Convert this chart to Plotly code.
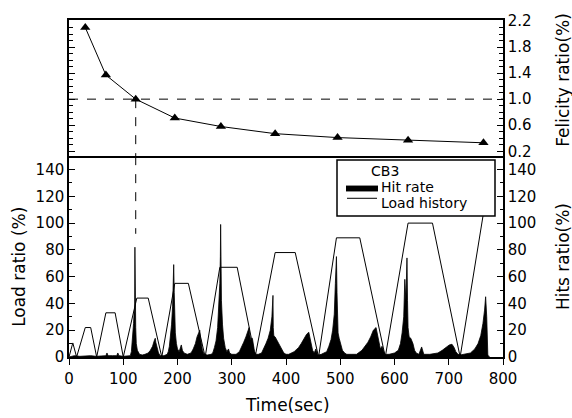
import plotly.graph_objects as go

# ---------------- data ----------------
felicity_time = [30, 68, 123, 195, 280, 380, 495, 625, 764]
felicity_ratio = [2.1, 1.37, 1.0, 0.71, 0.58, 0.47, 0.41, 0.37, 0.33]

load_time = [0, 7, 14, 30, 40, 51, 68, 85, 100, 125, 146, 171, 195, 220, 251,
             278, 310, 343, 380, 417, 460, 493, 536, 583, 625, 670, 721, 775]
load_ratio = [0, 10.5, 0, 22, 22, 0, 33, 33, 0, 44, 44, 0, 55, 55, 0,
              67, 67, 0, 78, 78, 0, 89, 89, 0, 100, 100, 0, 135]

hit_time = [0, 10, 20, 30, 40, 50, 60, 68, 70, 72, 80, 88, 90, 92, 100, 110,
            113, 115, 117, 119, 120, 121, 121.5, 122, 123, 124, 126, 130, 135, 140, 146,
            150, 154, 157, 159, 160, 162, 165, 168, 175, 181,
            183, 185, 187, 189, 191, 192, 193, 194, 195, 196, 198, 200, 203, 205, 207,
            209, 212, 218, 225, 229, 233, 236, 239, 241, 242, 244, 246, 249, 255, 262,
            265, 268, 271, 274, 276, 278, 279, 279.5, 280.5, 281, 283, 285, 288, 291, 294,
            296, 300, 308, 314, 318, 322, 326, 329, 332, 333, 335, 338, 340, 342, 345, 349, 355,
            359, 363, 367, 371, 374, 376, 376.5, 377.5, 380, 384, 388, 392, 396, 400,
            405, 415, 423, 428, 433, 438, 442, 444, 446, 449, 452, 455, 458, 460, 465, 475,
            479, 483, 486, 489, 491, 493, 494, 495, 496, 498, 501, 504, 508, 512, 520,
            530, 540, 546, 551, 556, 561, 566, 569, 571, 574, 577, 580, 582, 585, 590,
            600, 607,
            611, 614, 617, 619, 621, 622, 623, 624, 625, 627, 630, 634, 637, 640, 645,
            650, 653, 654, 665, 680, 688, 695, 701, 706, 710, 713, 717, 721, 730, 740,
            748, 754, 759, 763, 766, 768, 770, 771, 772, 773, 775, 800]
hit_ratio = [0, 1, 0.5, 1, 1, 0.5, 1, 1, 3, 1, 1, 1, 3, 1, 0.5, 1,
             1, 4, 12, 25, 33, 36, 82, 40, 22, 10, 5, 2, 1.5, 2, 3,
             5, 8, 12, 14, 11, 7, 3, 1, 1, 2,
             4, 8, 14, 24, 38, 52, 69, 48, 30, 18, 10, 6, 4, 7, 9,
             5, 3, 2, 3, 6, 10, 15, 18, 20, 15, 9, 5, 2, 1.5, 2,
             3, 7, 12, 22, 35, 55, 75, 99, 62, 42, 24, 14, 7, 4, 6,
             3, 2, 2, 4, 7, 11, 15, 19, 22, 17, 13, 14, 8, 4, 2, 2,
             3, 6, 10, 14, 20, 30, 46, 22, 16, 15, 12, 8, 5, 3,
             2, 2, 4, 7, 10, 14, 17, 18.5, 15, 10, 5, 3, 6, 2, 1.5, 2,
             4, 8, 13, 20, 32, 55, 75, 48, 28, 18, 14, 9, 5, 3, 2,
             2, 2, 5, 8, 11, 15, 20, 22, 16, 10, 6, 8, 3, 2, 2,
             2, 3,
             5, 10, 18, 30, 58, 42, 56, 74, 42, 22, 15, 14, 10, 5, 3,
             2, 7.5, 2, 2, 2, 3, 5, 7, 9, 9.5, 7, 4, 2, 1.5, 2,
             3, 6, 10, 16, 25, 35, 45, 30, 10, 2, 0.5, 0.5]

bottom_ticks = [0, 20, 40, 60, 80, 100, 120, 140]
felicity_ticks = [0.2, 0.6, 1.0, 1.4, 1.8, 2.2]
time_ticks = [0, 100, 200, 300, 400, 500, 600, 700, 800]

FONT = "DejaVu Sans"
TICKF = dict(family=FONT, size=15, color="black")
SPLIT = 0.596  # domain split between lower and upper panel

fig = go.Figure()

fig.add_trace(go.Scatter(
    x=load_time, y=load_ratio, mode="lines", name="Load history",
    line=dict(color="black", width=1), xaxis="x", yaxis="y", showlegend=False))

fig.add_trace(go.Scatter(
    x=hit_time, y=hit_ratio, mode="lines", name="Hit rate",
    line=dict(color="black", width=0.8), fill="tozeroy", fillcolor="black",
    xaxis="x", yaxis="y3", showlegend=False))

fig.add_trace(go.Scatter(
    x=felicity_time, y=felicity_ratio, mode="lines+markers", name="Felicity",
    line=dict(color="black", width=1),
    marker=dict(symbol="triangle-up", size=9, color="black"),
    xaxis="x2", yaxis="y2", showlegend=False))

axis_common = dict(showgrid=False, zeroline=False, showline=True,
                   linecolor="black", linewidth=1.5, tickcolor="black",
                   tickfont=TICKF)

fig.update_layout(
    width=572, height=418,
    margin=dict(l=69, r=69, t=13, b=61),
    paper_bgcolor="white", plot_bgcolor="white",
    font=dict(family=FONT, color="black"),
    xaxis=dict(domain=[0, 1], range=[0, 800], anchor="y",
               tickvals=time_ticks, ticks="outside", ticklen=6,
               ticklabelstandoff=1, **axis_common),
    yaxis=dict(domain=[0, SPLIT], range=[0, 150], anchor="x",
               tickvals=bottom_ticks, ticks="inside", ticklen=6,
               minor=dict(dtick=10, tick0=0, ticks="inside", ticklen=3,
                          tickcolor="black"),
               **axis_common),
    yaxis3=dict(overlaying="y", side="right", range=[0, 150], anchor="x",
                tickvals=bottom_ticks, ticks="inside", ticklen=6,
                minor=dict(dtick=10, tick0=0, ticks="inside", ticklen=3,
                           tickcolor="black"),
                **axis_common),
    xaxis2=dict(domain=[0, 1], range=[0, 800], anchor="y2", matches="x",
                showticklabels=False, ticks="", mirror=True,
                showgrid=False, zeroline=False, showline=True,
                linecolor="black", linewidth=1.5),
    yaxis2=dict(domain=[SPLIT, 1], range=[0.125, 2.215], anchor="x2",
                side="right", tickvals=felicity_ticks, tickformat=".1f",
                ticks="inside", ticklen=6, mirror="ticks",
                minor=dict(dtick=0.1, tick0=0.2, ticks="inside", ticklen=4,
                           tickcolor="black"),
                **axis_common),
)

# dashed reference lines
fig.add_shape(type="line", xref="x2 domain", yref="y2", x0=0, x1=1, y0=1.0, y1=1.0,
              line=dict(color="black", width=1, dash="dash"))
fig.add_shape(type="line", xref="x2", yref="y2", x0=123, x1=123, y0=1.0, y1=0.125,
              line=dict(color="black", width=1, dash="dash"))
fig.add_shape(type="line", xref="x", yref="y", x0=123, x1=123, y0=150, y1=92,
              line=dict(color="black", width=1, dash="dash"))

# legend box (drawn manually)
def px_x(px):
    return (px - 69) / 434.0

def px_y(py):
    return (357 - py) / 344.0

fig.add_shape(type="rect", xref="paper", yref="paper",
              x0=px_x(337), x1=px_x(495), y0=px_y(213), y1=px_y(156),
              fillcolor="white", line=dict(color="black", width=1.5), layer="above")
fig.add_shape(type="rect", xref="paper", yref="paper",
              x0=px_x(346), x1=px_x(378), y0=px_y(188), y1=px_y(182),
              fillcolor="black", line=dict(width=0), layer="above")
fig.add_shape(type="line", xref="paper", yref="paper",
              x0=px_x(347), x1=px_x(377), y0=px_y(195), y1=px_y(195),
              line=dict(color="black", width=1), layer="above")

LEGF = dict(family=FONT, size=14, color="black")
fig.add_annotation(x=px_x(385), y=px_y(167), xref="paper", yref="paper",
                   text="CB3", showarrow=False, font=LEGF, xanchor="center", yanchor="middle",
                   borderpad=0)
fig.add_annotation(x=px_x(380), y=px_y(183), xref="paper", yref="paper",
                   text="Hit rate", showarrow=False, font=LEGF, xanchor="left", yanchor="middle",
                   borderpad=0)
fig.add_annotation(x=px_x(380), y=px_y(200), xref="paper", yref="paper",
                   text="Load history", showarrow=False, font=LEGF, xanchor="left", yanchor="middle",
                   borderpad=0)

# axis titles
TITF = dict(family=FONT, size=17, color="black")
fig.add_annotation(x=px_x(19), y=px_y(265), xref="paper", yref="paper",
                   text="Load ratio (%)", textangle=-90, showarrow=False, font=TITF,
                   xanchor="center", yanchor="middle")
fig.add_annotation(x=px_x(563), y=px_y(255), xref="paper", yref="paper",
                   text="Hits ratio(%)", textangle=-90, showarrow=False, font=TITF,
                   xanchor="center", yanchor="middle")
fig.add_annotation(x=px_x(563), y=px_y(74), xref="paper", yref="paper",
                   text="Felicity ratio(%)", textangle=-90, showarrow=False, font=TITF,
                   xanchor="center", yanchor="middle")
fig.add_annotation(x=px_x(287), y=px_y(406), xref="paper", yref="paper",
                   text="Time(sec)", showarrow=False, font=TITF,
                   xanchor="center", yanchor="middle")

fig.write_html("out.html")
